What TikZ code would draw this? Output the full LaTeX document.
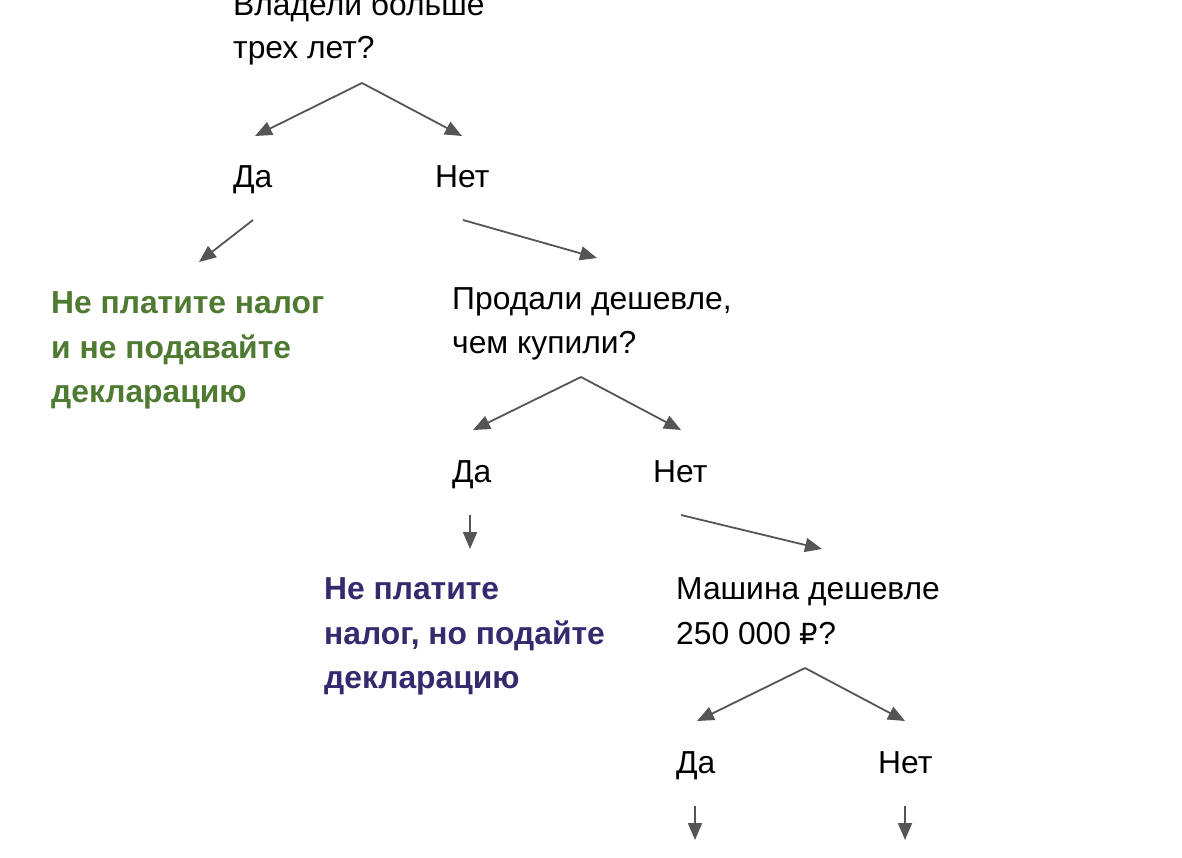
\documentclass[tikz,border=0pt]{standalone}
\usepackage{fontspec}
\setmainfont{Liberation Sans}
\newfontfamily\rubfont{DejaVu Sans}
\usetikzlibrary{arrows.meta}
\definecolor{tgreen}{HTML}{4E7A32}
\definecolor{tpurple}{HTML}{352A6E}
\definecolor{arr}{HTML}{555555}
\begin{document}
\begin{tikzpicture}[x=1pt,y=-1pt,
  t/.style={anchor=base west,inner sep=0pt,font=\fontsize{31.8}{36}\selectfont},
  g/.style={t,text=tgreen,font=\fontsize{31.8}{36}\selectfont\bfseries},
  p/.style={t,text=tpurple,font=\fontsize{31.8}{36}\selectfont\bfseries},
  a/.style={draw=arr,line width=1.8pt,-{Triangle[length=17pt,width=14pt]}}]
\useasboundingbox (0,0) rectangle (1182,857);
\node[t] (q1a) at (233,15) {Владели больше};
\node[t] (q1b) at (233,58) {трех лет?};
\node[t] (d1) at (233,187) {Да};
\node[t] (n1) at (435,187) {Нет};
\node[g] (r1a) at (51,313) {Не платите налог};
\node[g] (r1b) at (51,358) {и не подавайте};
\node[g] (r1c) at (51,402) {декларацию};
\node[t] (q2a) at (452,309) {Продали дешевле,};
\node[t] (q2b) at (452,353) {чем купили?};
\node[t] (d2) at (452,482) {Да};
\node[t] (n2) at (653,482) {Нет};
\node[p] (r2a) at (324,599) {Не платите};
\node[p] (r2b) at (324,644) {налог, но подайте};
\node[p] (r2c) at (324,688) {декларацию};
\node[t] (q3a) at (676,599) {Машина дешевле};
\node[t] (q3b) at (676,644) {250 000 {\rubfont\fontsize{29}{36}\selectfont ₽}?};
\node[t] (d3) at (676,773) {Да};
\node[t] (n3) at (878,773) {Нет};
\coordinate (s1) at (362,83);
\coordinate (e1a) at (255,136); \coordinate (e1b) at (462,136);
\coordinate (s2a) at (253,220); \coordinate (e2a) at (199,262);
\coordinate (s2b) at (463,220); \coordinate (e2b) at (597,258);
\coordinate (s3) at (581,377);
\coordinate (e3a) at (473,430); \coordinate (e3b) at (681,430);
\coordinate (s4a) at (470,515); \coordinate (e4a) at (470,549);
\coordinate (s4b) at (681,515); \coordinate (e4b) at (822,549);
\coordinate (s5) at (805,668);
\coordinate (e5a) at (697,721); \coordinate (e5b) at (905,721);
\coordinate (s6a) at (695,806); \coordinate (e6a) at (695,840);
\coordinate (s6b) at (905,806); \coordinate (e6b) at (905,840);
\draw[a] (s1) -- (e1a); \draw[a] (s1) -- (e1b);
\draw[a] (s2a) -- (e2a); \draw[a] (s2b) -- (e2b);
\draw[a] (s3) -- (e3a); \draw[a] (s3) -- (e3b);
\draw[a] (s4a) -- (e4a); \draw[a] (s4b) -- (e4b);
\draw[a] (s5) -- (e5a); \draw[a] (s5) -- (e5b);
\draw[a] (s6a) -- (e6a); \draw[a] (s6b) -- (e6b);
\end{tikzpicture}
\end{document}
